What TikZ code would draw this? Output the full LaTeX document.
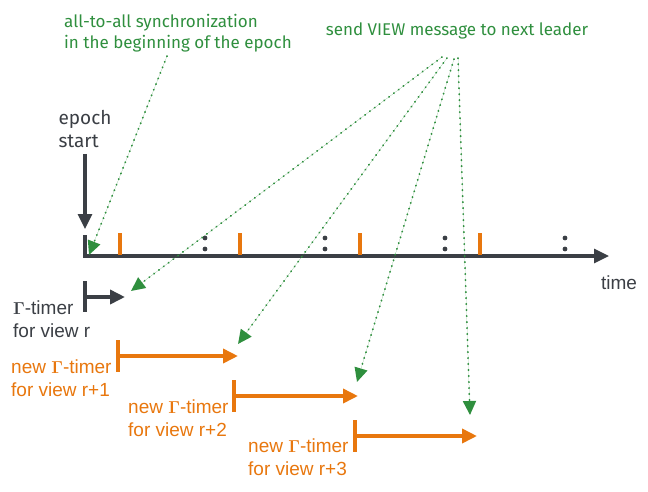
\documentclass[tikz,border=0pt]{standalone}
\usepackage[no-math]{fontspec}
\setmainfont{Liberation Sans}
\newfontfamily\handfont{Fira Sans}
\usetikzlibrary{arrows.meta,positioning}
\definecolor{ink}{HTML}{3B3F45}
\definecolor{amber}{HTML}{E8770E}
\definecolor{leaf}{HTML}{2F8F3E}
\tikzset{axisline/.style={-{Triangle[length=15pt,width=14pt]},draw=ink,line width=3.2pt},
 timerline/.style={-{Triangle[length=15pt,width=14pt]},line width=3.6pt},
 bar/.style={line width=3.2pt},
 msg/.style={-{Triangle[length=14pt,width=13pt]},draw=leaf,fill=leaf,line width=1.8pt,dash pattern=on 0.4pt off 5.6pt,line cap=round},
 note/.style={font=\handfont\fontsize{17}{21}\selectfont,text=leaf,align=left,inner sep=0pt},
 lbl/.style={font=\fontsize{19}{23}\selectfont,align=left,inner sep=0pt}}
\begin{document}
\begin{tikzpicture}[x=1pt,y=-1pt]
 \useasboundingbox (0,0) rectangle (648,491);
 % time axis
 \coordinate (t0) at (85,256); \coordinate (t1) at (609,256);
 \draw[axisline] (t0)--(t1);
 \node[lbl,text=ink] (time) at (619,283) {time};
 \draw[bar,ink] (85,235)--(85,258);
 \foreach \x in {120,240,360,480} \draw[amber,line width=3.2pt] (\x,233)--(\x,255);
 \foreach \x in {205,325,445,565} {\fill[ink] (\x,238) circle (2.4pt); \fill[ink] (\x,249) circle (2.4pt);}
 % epoch start
 \node[font=\handfont\fontsize{19}{23}\selectfont,text=ink,align=left,inner sep=0pt] (epoch) at (85,129) {epoch\\start};
 \coordinate (e0) at (85,229);
 \draw[axisline] ([yshift=-6pt]epoch.south)--(e0);
 % timers
 \coordinate (s0) at (85,297); \coordinate (f0) at (125,297);
 \draw[bar,ink] (85,281)--(85,312); \draw[timerline,ink] (s0)--(f0);
 \node[lbl,text=ink,anchor=west] (r0) at (13,319) {$\mathbf{\Gamma}$-timer\\for view r};
 \coordinate (s1) at (118,356); \coordinate (f1) at (238,356);
 \draw[bar,amber] (118,340)--(118,372); \draw[timerline,amber] (s1)--(f1);
 \node[lbl,text=amber,anchor=west] (r1) at (11,378) {new $\mathbf{\Gamma}$-timer\\for view r+1};
 \coordinate (s2) at (234,396); \coordinate (f2) at (358,396);
 \draw[bar,amber] (234,380)--(234,412); \draw[timerline,amber] (s2)--(f2);
 \node[lbl,text=amber,anchor=west] (r2) at (128,418) {new $\mathbf{\Gamma}$-timer\\for view r+2};
 \coordinate (s3) at (355,436); \coordinate (f3) at (477,436);
 \draw[bar,amber] (355,420)--(355,452); \draw[timerline,amber] (s3)--(f3);
 \node[lbl,text=amber,anchor=west] (r3) at (248,457) {new $\mathbf{\Gamma}$-timer\\for view r+3};
 % messages
 \node[note,anchor=west] (sync) at (64,33) {all-to-all synchronization\\in the beginning of the epoch};
 \node[note] (send) at (457,31) {send VIEW message to next leader};
 \coordinate (m) at (167,56);
 \coordinate (v0) at (442,57); \coordinate (v1) at (447,58); \coordinate (v2) at (454,59); \coordinate (v3) at (458,58);
 \coordinate (g) at (89,255); \coordinate (g0) at (131,291); \coordinate (g1) at (238,344); \coordinate (g2) at (357,382); \coordinate (g3) at (470,415);
 \draw[msg] (m)--(g);
 \draw[msg] (v0)--(g0); \draw[msg] (v1)--(g1); \draw[msg] (v2)--(g2); \draw[msg] (v3)--(g3);
\end{tikzpicture}
\end{document}
